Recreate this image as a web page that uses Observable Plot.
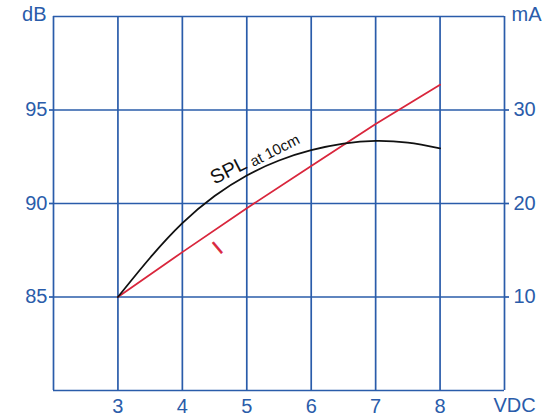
<!DOCTYPE html>
<html>
<head>
<meta charset="utf-8">
<script src="https://cdn.jsdelivr.net/npm/d3@7"></script>
<script src="https://cdn.jsdelivr.net/npm/@observablehq/plot@0.6"></script>
<style>
  html, body { margin: 0; padding: 0; background: #fff; }
  #chart svg { display: block; }
</style>
</head>
<body>
<div id="chart"></div>
<script>
// Data
const voltsSPL = [3, 3.5, 4, 4.5, 5, 5.5, 6, 6.5, 7, 7.5, 8];
const splDb    = [85, 87.1, 88.95, 90.4, 91.5, 92.3, 92.85, 93.2, 93.35, 93.25, 92.95];
const voltsI   = [3, 4, 5, 6, 7, 8];
const currentMA = [10, 14.8, 19.5, 24.0, 28.5, 32.7];
const xTicks = [3, 4, 5, 6, 7, 8];
const xGrid = [2, 3, 4, 5, 6, 7, 8, 9];
const yTicksDb = [85, 90, 95];
const yGridDb = [80, 85, 90, 95, 100];

const splData = voltsSPL.map((v, i) => ({v, db: splDb[i]}));
const iData = voltsI.map((v, i) => ({v, ma: currentMA[i]}));
const maToDb = ma => 80 + ma / 2; // right axis: 0–40 mA ↔ 80–100 dB
const dbToMa = db => (db - 80) * 2;

const blue = "#2a5caa";
const red = "#d9263c";
const font = "Liberation Sans, Arial, sans-serif";

const chart = Plot.plot({
  width: 549,
  height: 417,
  marginLeft: 53,
  marginRight: 45,
  marginTop: 16,
  marginBottom: 27,
  style: {fontFamily: font, color: blue, background: "#fff", overflow: "visible"},
  x: {domain: [2, 9]},
  y: {domain: [80, 100]},
  marks: [
    Plot.ruleX(xGrid, {stroke: blue, strokeWidth: 1.7}),
    Plot.ruleY(yGridDb, {stroke: blue, strokeWidth: 1.7}),
    Plot.axisX(xTicks, {tickSize: 0, tickPadding: 8, fontSize: 20, fill: blue, label: null}),
    Plot.axisY(yTicksDb, {anchor: "left", tickSize: 4, tickPadding: 2, fontSize: 20, fill: blue, stroke: blue, strokeWidth: 1.7, label: null}),
    Plot.axisY(yTicksDb, {anchor: "right", tickSize: 4, tickPadding: 5, fontSize: 20, fill: blue, stroke: blue, strokeWidth: 1.7, tickFormat: dbToMa, label: null}),
    Plot.text(["dB"], {frameAnchor: "top-left", textAnchor: "end", lineAnchor: "middle", dx: -7, dy: -2, fontSize: 20, fill: blue}),
    Plot.text(["mA"], {frameAnchor: "top-right", textAnchor: "start", lineAnchor: "middle", dx: 7, dy: -2, fontSize: 20, fill: blue}),
    Plot.text(["VDC"], {frameAnchor: "bottom-right", textAnchor: "middle", lineAnchor: "top", dx: 10, dy: 7, fontSize: 20, fill: blue}),
    Plot.line(iData, {x: "v", y: d => maToDb(d.ma), stroke: red, strokeWidth: 1.8}),
    Plot.line(splData, {x: "v", y: "db", stroke: "#111", strokeWidth: 1.8, curve: "natural"}),
    Plot.text(["SPL"], {x: [4.5], y: [91.0], text: d => d, rotate: -27, textAnchor: "start", lineAnchor: "bottom", fontSize: 20, fill: "#111"}),
    Plot.text(["at 10cm"], {x: [5.1], y: [91.95], text: d => d, rotate: -27, textAnchor: "start", lineAnchor: "bottom", fontSize: 15, fill: "#111"}),
    Plot.text(["I"], {x: [4.55], y: [87.62], text: d => d, rotate: -40, textAnchor: "middle", lineAnchor: "middle", fontSize: 20, fill: red, stroke: red, strokeWidth: 0.6})
  ]
});
document.getElementById("chart").appendChild(chart);
</script>
</body>
</html>
